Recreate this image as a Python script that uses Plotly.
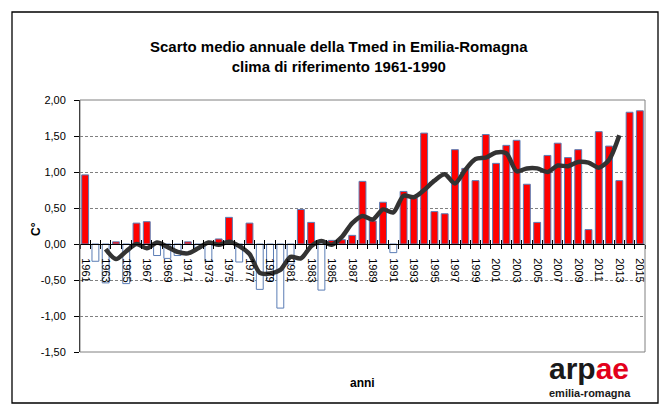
import numpy as np
import plotly.graph_objects as go

# ---- data -------------------------------------------------------------
years = list(range(1961, 2016))
anomaly = [
    0.96, -0.24, -0.54, 0.03, -0.55, 0.29, 0.31, -0.16, -0.20, -0.16,   # 1961-1970
    0.03, -0.06, -0.24, 0.07, 0.37, -0.25, 0.29, -0.63, -0.51, -0.89,   # 1971-1980
    -0.28, 0.48, 0.30, -0.64, 0.05, 0.06, 0.12, 0.87, 0.32, 0.58,       # 1981-1990
    -0.12, 0.73, 0.64, 1.54, 0.45, 0.42, 1.31, 1.05, 0.88, 1.52,        # 1991-2000
    1.12, 1.37, 1.44, 0.83, 0.30, 1.23, 1.40, 1.20, 1.31, 0.20,         # 2001-2010
    1.56, 1.36, 0.88, 1.83, 1.85,                                       # 2011-2015
]
ma_years = list(range(1963, 2014))
ma_values = [
    -0.07, -0.21, -0.10, 0.00, -0.06, 0.02, -0.04, -0.11, -0.13, -0.06,  # 1963-1972
    0.02, -0.01, 0.03, -0.03, -0.14, -0.40, -0.41, -0.36, -0.18, -0.20,  # 1973-1982
    -0.03, 0.04, -0.01, 0.10, 0.29, 0.39, 0.34, 0.48, 0.44, 0.67,        # 1983-1992
    0.65, 0.75, 0.88, 0.97, 0.84, 1.03, 1.18, 1.20, 1.27, 1.26,          # 1993-2002
    1.01, 1.05, 1.05, 1.00, 1.09, 1.08, 1.14, 1.13, 1.06, 1.17,          # 2003-2012
    1.51,                                                                # 2013
]
label_years = list(range(1961, 2016, 2))
y_tickvals = [-1.5, -1.0, -0.5, 0.0, 0.5, 1.0, 1.5, 2.0]
y_ticktext = ["-1,50", "-1,00", "-0,50", "0,00", "0,50", "1,00", "1,50", "2,00"]

title_text = "Scarto medio annuale della Tmed in Emilia-Romagna<br>clima di riferimento 1961-1990"
x_title = "anni"
y_title = "C°"

# ---- styling helpers ---------------------------------------------------
FONT = "Liberation Sans"
y_range = [-1.5, 2.0]
x_range = [years[0] - 0.5, years[-1] + 0.5]
zero_pos = (0 - y_range[0]) / (y_range[1] - y_range[0])
boundaries = list(np.arange(x_range[0], x_range[1] + 0.01, 1.0))

bar_fill = ["#FF0000" if v >= 0 else "#FFFFFF" for v in anomaly]

fig = go.Figure()
fig.add_trace(go.Bar(
    x=years, y=anomaly,
    marker=dict(color=bar_fill, line=dict(color="#5B7DB5", width=1)),
    xaxis="x", yaxis="y", showlegend=False,
))
fig.add_trace(go.Scatter(
    x=ma_years, y=ma_values, mode="lines",
    line=dict(color="#333333", width=4.5, shape="spline", smoothing=0.8),
    xaxis="x2", yaxis="y", showlegend=False,
))

fig.update_layout(
    width=671, height=418,
    margin=dict(l=80, r=26, t=100, b=66),
    paper_bgcolor="white", plot_bgcolor="white",
    bargap=0.33,
    font=dict(family=FONT, color="black", size=11),
    xaxis=dict(
        range=x_range, anchor="free", position=zero_pos,
        showline=True, linecolor="black", linewidth=1,
        tickmode="array", tickvals=label_years,
        ticktext=[str(y) for y in label_years],
        tickangle=90, ticks="", showgrid=False, zeroline=False,
        tickfont=dict(family=FONT, size=11, color="black"),
        ticklabelstandoff=11,
        minor=dict(tickmode="array", tickvals=boundaries, ticks="outside",
                   ticklen=4, tickwidth=1, tickcolor="black", showgrid=False),
    ),
    xaxis2=dict(
        range=x_range, overlaying="x", anchor="free", position=zero_pos,
        tickmode="array", tickvals=boundaries, ticks="inside", ticklen=4,
        tickcolor="black", tickwidth=1, showticklabels=False,
        showgrid=False, zeroline=False, showline=False,
    ),
    yaxis=dict(
        range=y_range, domain=[0, 1],
        tickmode="array", tickvals=y_tickvals, ticktext=y_ticktext,
        showgrid=True, gridcolor="#808080", gridwidth=1, griddash="3px,2px",
        showline=True, linecolor="black", linewidth=1,
        ticks="outside", ticklen=5, tickcolor="black",
        ticklabelstandoff=6,
        zeroline=False,
        tickfont=dict(family=FONT, size=11, color="black"),
    ),
    shapes=[
        # plot-area border
        dict(type="rect", xref="paper", yref="paper", x0=0, x1=1, y0=0, y1=1,
             line=dict(color="#808080", width=1), layer="above"),
        # outer chart border
        dict(type="rect", xref="paper", yref="paper",
             x0=(12 - 80) / 565, x1=(658 - 80) / 565,
             y0=(352 - 403) / 252, y1=(352 - 12) / 252,
             line=dict(color="black", width=1.3), layer="above"),
    ],
    annotations=[
        dict(text="<b>" + title_text + "</b>", xref="paper", yref="paper",
             x=(339 - 80) / 565, y=(352 - 36) / 252, xanchor="center", yanchor="top",
             showarrow=False, font=dict(family=FONT, size=15, color="black")),
        dict(text="<b>" + x_title + "</b>", xref="paper", yref="paper",
             x=0.5, y=(352 - 383) / 252, xanchor="center", yanchor="middle",
             showarrow=False, font=dict(family=FONT, size=12, color="black")),
        dict(text="<b>" + y_title + "</b>", xref="paper", yref="paper",
             x=(36 - 80) / 565, y=(352 - 229) / 252, xanchor="center", yanchor="middle",
             textangle=-90, showarrow=False, font=dict(family=FONT, size=12, color="black")),
        dict(text="<b>arp<span style='color:#E3001B'>ae</span></b>", xref="paper", yref="paper",
             x=(589 - 80) / 565, y=(352 - 368) / 252, xanchor="center", yanchor="middle",
             showarrow=False, font=dict(family=FONT, size=30, color="#1A1A1A")),
        dict(text="<b>emilia-romagna</b>", xref="paper", yref="paper",
             x=(590 - 80) / 565, y=(352 - 393) / 252, xanchor="center", yanchor="middle",
             showarrow=False, font=dict(family=FONT, size=11, color="#1A1A1A")),
    ],
)

fig.write_html(
    "out.html",
    config={"displayModeBar": False},
    post_script="document.body.style.margin='0';document.body.style.padding='0';",
)
